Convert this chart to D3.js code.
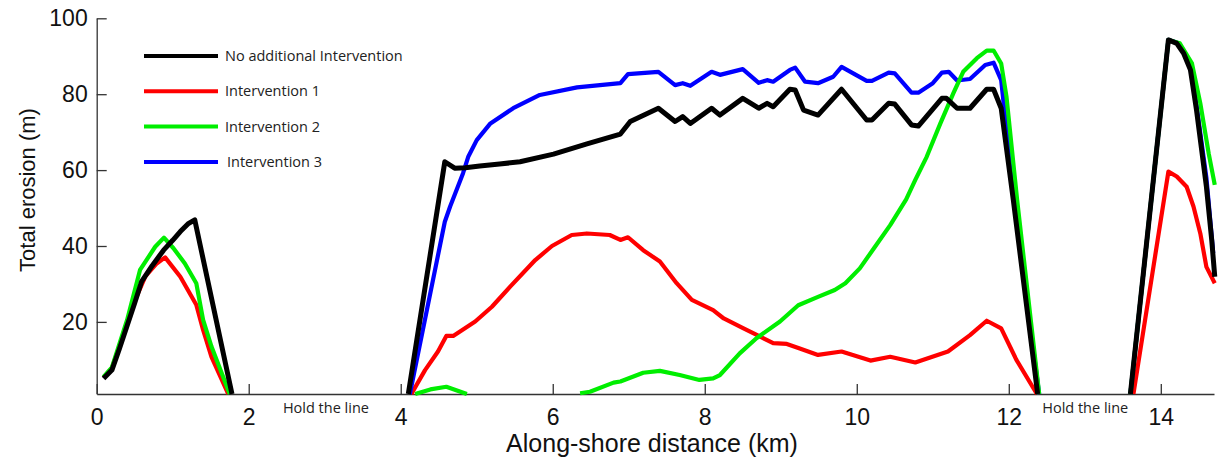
<!DOCTYPE html>
<html lang="en">
  <head>
    <meta charset="utf-8">
    <title>erosion</title>
    <script src="https://cdn.jsdelivr.net/npm/d3@7"></script>
    <style type="text/css">
      body { margin: 0; background: #fff; }
      .axis path, .axis line { stroke: #333; stroke-width: 1.3; }
      .axis text { font-family: "Liberation Sans", Arial, sans-serif; font-size: 23px; fill: #111; }
      .series { fill: none; stroke-linejoin: round; stroke-linecap: butt; }
      .note { font-family: "Open Sans", sans-serif; font-size: 14.5px; fill: #222; }
    </style>
  </head>
  <body>
    <svg width="1218" height="463"></svg>
    <script type="text/javascript">
      // series: [km, m], null = break in the line
      var noIntervention = [
        [0.09,5.1],[0.2,7.3],[0.3,13],[0.4,19],[0.5,25],[0.59,30.6],[0.73,34.8],[0.88,38.9],[1.0,41.5],[1.1,43.8],[1.2,45.8],[1.29,46.9],[1.78,1],
        null,
        [4.1,1],[4.58,62.2],[4.71,60.5],[4.85,60.6],[5.04,61.1],[5.3,61.6],[5.57,62.2],[6.01,64.2],[6.45,66.9],[6.89,69.5],[7.02,72.8],[7.39,76.3],
        [7.61,72.8],[7.71,74.1],[7.81,72.3],[8.09,76.3],[8.2,74.5],[8.5,78.9],[8.71,76.3],[8.82,77.6],[8.9,76.7],[9.12,81.3],[9.19,81.1],
        [9.3,75.8],[9.49,74.5],[9.8,81.3],[10.13,73.2],[10.2,73.2],[10.42,77.6],[10.5,77.4],[10.72,71.9],[10.81,71.6],[11.12,78.9],[11.18,78.9],
        [11.32,76.3],[11.49,76.3],[11.71,81.3],[11.8,81.3],[11.9,76.3],[12.06,52.1],[12.38,1],
        null,
        [13.6,1],[14.1,94.3],[14.21,93.4],[14.3,90.8],[14.39,86.4],[14.47,75.8],[14.6,55.6],[14.67,41.6],[14.71,31.9]
      ];
      var intervention1 = [
        [0.09,5.3],[0.2,7.8],[0.4,19.5],[0.5,25.5],[0.64,32],[0.79,35.4],[0.9,37],[1.1,31.9],[1.31,24.5],[1.4,17.9],[1.51,10.8],[1.73,1],
        null,
        [4.14,1],[4.32,7.3],[4.49,12.2],[4.6,16.3],[4.69,16.3],[4.98,20.1],[5.2,24],[5.44,29.3],[5.77,36.3],[5.99,40],[6.25,42.9],[6.45,43.3],
        [6.75,42.9],[6.89,41.6],[6.99,42.3],[7.19,38.9],[7.41,35.9],[7.63,30.2],[7.83,25.8],[8.11,23.1],[8.25,20.9],[8.51,18.3],[8.73,16.1],
        [8.9,14.4],[9.08,14.2],[9.25,13],[9.49,11.3],[9.8,12.2],[10.18,9.8],[10.44,10.8],[10.77,9.3],[11.2,12.2],[11.49,16.5],[11.71,20.3],
        [11.9,18.3],[12.1,10],[12.37,1],
        null,
        [13.64,1],[14.1,59.6],[14.21,58.3],[14.34,55.6],[14.43,50.4],[14.52,43.3],[14.6,34.5],[14.71,30.2]
      ];
      var intervention2 = [
        [0.09,5.5],[0.2,8],[0.4,20.5],[0.57,33.7],[0.77,39.8],[0.885,42.2],[1.01,39.4],[1.16,35.4],[1.31,30.2],[1.4,20.5],[1.51,13.5],[1.75,1],
        null,
        [4.19,1],[4.39,2.2],[4.6,2.9],[4.87,1],
        null,
        [6.36,1.2],[6.49,1.6],[6.8,4],[6.89,4.3],[7.19,6.6],[7.41,7.1],[7.67,6],[7.93,4.7],[8.11,5.1],[8.2,6],[8.46,11.7],[8.68,15.7],
        [8.99,20.1],[9.23,24.4],[9.49,26.6],[9.71,28.4],[9.85,30.2],[10.04,34.1],[10.24,39.8],[10.44,45.5],[10.65,52.3],[10.77,57.4],
        [10.92,63.5],[11.1,72.3],[11.27,80.2],[11.4,85.9],[11.58,89.5],[11.71,91.5],[11.8,91.5],[11.9,88.1],[11.97,79.3],[12.11,52.1],[12.4,1],
        null,
        [13.6,1],[14.1,94.3],[14.25,93.4],[14.41,88.1],[14.52,77.6],[14.63,64.4],[14.71,56.1]
      ];
      var intervention3 = [
        [4.12,1],[4.58,46.4],[4.65,50.4],[4.82,59.2],[4.89,63.6],[5.0,67.9],[5.18,72.3],[5.48,76.3],[5.83,79.8],[6.32,81.8],
        [6.89,82.9],[6.99,85.3],[7.39,85.9],[7.61,82.4],[7.71,82.9],[7.81,82.2],[8.09,85.9],[8.2,85.1],[8.5,86.6],[8.71,83],[8.82,83.7],
        [8.9,83.3],[9.12,86.4],[9.19,87],[9.32,83.3],[9.49,82.9],[9.69,84.6],[9.8,87.2],[10.13,83.5],[10.2,83.5],[10.42,85.7],[10.5,85.5],
        [10.72,80.4],[10.81,80.4],[11.0,82.9],[11.12,85.7],[11.21,85.9],[11.32,83.6],[11.49,84],[11.69,87.7],[11.8,88.3],[11.9,83.7],
        [12.08,50],[12.4,1],
        null,
        [13.6,1],[14.1,94.3],[14.21,93.6],[14.3,91],[14.39,87],[14.47,77],[14.6,58],[14.69,38.1]
      ];

      var seriesNames = ["No additional Intervention", "Intervention 1", "Intervention 2", "Intervention 3"];
      var seriesColors = ["#000000", "#ff0000", "#00ee00", "#0000ff"];
      var seriesData = [noIntervention, intervention1, intervention2, intervention3];
      var xTicks = [0, 2, 4, 6, 8, 10, 12, 14];
      var yTicks = [20, 40, 60, 80, 100];
      var holdLabels = [[2.45, "Hold the line"], [12.44, "Hold the line"]];

      var svg = d3.select("svg");

      var x = d3.scaleLinear().domain([0, 14.7]).range([96.7, 1214]);
      var y = d3.scaleLinear().domain([1, 100]).range([394, 18.3]);

      svg.append("g")
        .attr("class", "axis")
        .attr("transform", "translate(0," + y(1) + ")")
        .call(d3.axisBottom(x).tickValues(xTicks).tickFormat(d3.format("d"))
          .tickSizeInner(-10).tickSizeOuter(0).tickPadding(15));

      svg.append("g")
        .attr("class", "axis")
        .attr("transform", "translate(" + x(0) + ",0)")
        .call(d3.axisLeft(y).tickValues(yTicks)
          .tickSizeInner(-10).tickSizeOuter(0).tickPadding(9));

      svg.append("text")
        .attr("x", 652)
        .attr("y", 452)
        .attr("text-anchor", "middle")
        .style("font-family", "Liberation Sans, Arial, sans-serif")
        .style("font-size", "25px")
        .style("fill", "#111")
        .text("Along-shore distance (km)");

      svg.append("text")
        .attr("transform", "translate(35,190) rotate(-90)")
        .attr("text-anchor", "middle")
        .style("font-family", "Liberation Sans, Arial, sans-serif")
        .style("font-size", "22px")
        .style("fill", "#111")
        .text("Total erosion (m)");

      svg.selectAll(".hold")
        .data(holdLabels)
        .enter().append("text")
          .attr("class", "note")
          .attr("x", function(d) { return x(d[0]); })
          .attr("y", 413)
          .text(function(d) { return d[1]; });

      var line = d3.line()
        .defined(function(d) { return d !== null; })
        .x(function(d) { return x(d[0]); })
        .y(function(d) { return y(d[1]); });

      // draw order: red, blue, green, black on top
      var order = [1, 3, 2, 0];
      svg.selectAll(".series")
        .data(order)
        .enter().append("path")
          .attr("class", "series")
          .attr("stroke", function(i) { return seriesColors[i]; })
          .attr("stroke-width", function(i) { return i === 0 ? 5 : 4.2; })
          .attr("d", function(i) { return line(seriesData[i]); });

      var legend = svg.selectAll(".legend")
        .data(seriesNames)
        .enter().append("g")
          .attr("class", "legend")
          .attr("transform", function(d, i) { return "translate(0," + (56 + i * 35.3) + ")"; });

      legend.append("line")
        .attr("x1", 144)
        .attr("x2", 218)
        .attr("stroke", function(d, i) { return seriesColors[i]; })
        .attr("stroke-width", 4);

      legend.append("text")
        .attr("class", "note")
        .attr("x", function(d, i) { return i === 3 ? 227 : 225; })
        .attr("dy", "0.35em")
        .text(function(d) { return d; });
    </script>
  </body>
</html>
